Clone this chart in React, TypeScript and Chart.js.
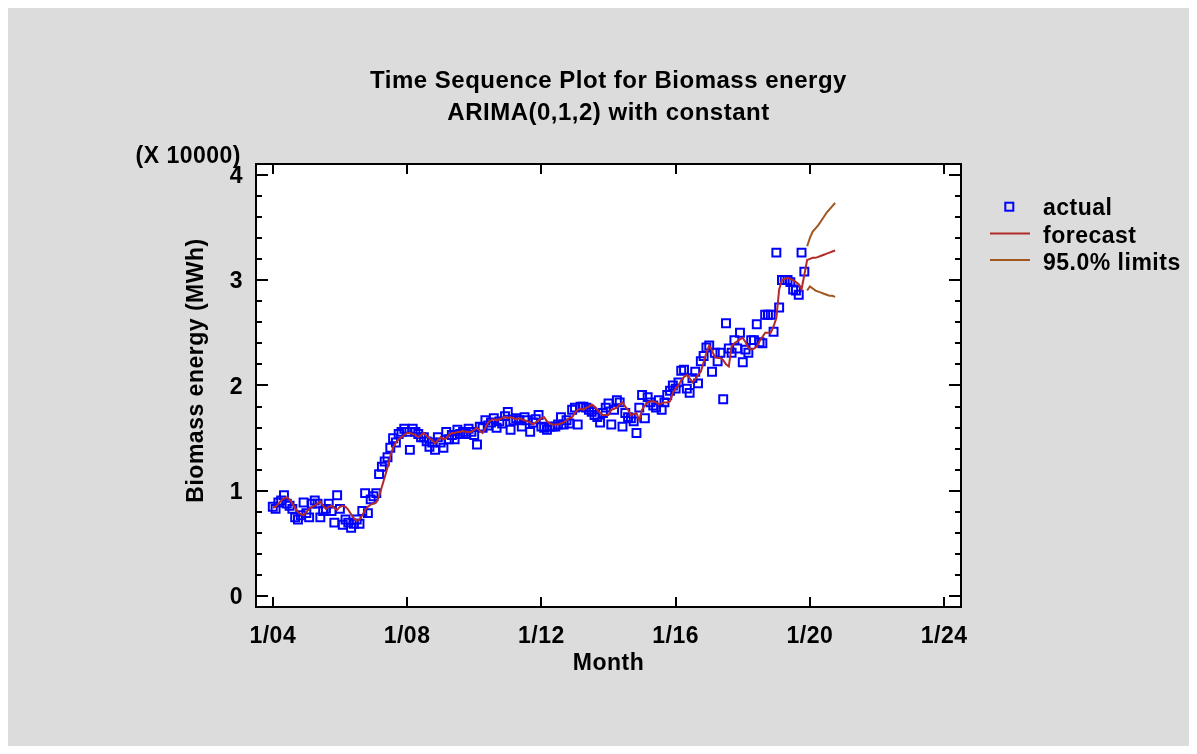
import React, { useEffect, useRef } from "react";
import { Chart, registerables } from "chart.js";

Chart.register(...registerables);

// ---------------- data (units of 10000 MWh) ----------------
// Monthly actual values starting 1/2004 (month index 0)
const actualValues: number[] = [
  // 2004
  0.85, 0.83, 0.89, 0.91, 0.96, 0.88, 0.86, 0.83, 0.75, 0.73, 0.77, 0.89,
  // 2005
  0.79, 0.75, 0.88, 0.91, 0.88, 0.75, 0.81, 0.83, 0.88, 0.81, 0.70, 0.96,
  // 2006
  0.83, 0.68, 0.73, 0.70, 0.65, 0.69, 0.73, 0.69, 0.81, 0.98, 0.79, 0.92,
  // 2007
  0.95, 0.98, 1.16, 1.23, 1.28, 1.32, 1.41, 1.50, 1.46, 1.54, 1.56, 1.59,
  // 2008
  1.56, 1.39, 1.59, 1.56, 1.54, 1.51, 1.51, 1.47, 1.42, 1.46, 1.39, 1.51,
  // 2009
  1.46, 1.41, 1.56, 1.49, 1.53, 1.49, 1.58, 1.54, 1.56, 1.54, 1.59, 1.56,
  // 2010
  1.53, 1.44, 1.61, 1.60, 1.67, 1.62, 1.65, 1.69, 1.60, 1.66, 1.64, 1.71,
  // 2011
  1.75, 1.58, 1.67, 1.69, 1.67, 1.61, 1.70, 1.67, 1.56, 1.65, 1.68, 1.72,
  // 2012
  1.61, 1.60, 1.58, 1.61, 1.61, 1.61, 1.63, 1.70, 1.63, 1.67, 1.64, 1.77,
  // 2013
  1.79, 1.63, 1.80, 1.80, 1.79, 1.77, 1.75, 1.72, 1.70, 1.65, 1.74, 1.79,
  // 2014
  1.83, 1.63, 1.77, 1.86, 1.84, 1.61, 1.74, 1.70, 1.69, 1.66, 1.55, 1.79,
  // 2015
  1.91, 1.69, 1.89, 1.84, 1.81, 1.79, 1.86, 1.77, 1.84, 1.91, 1.95, 2.00,
  // 2016
  1.97, 2.03, 2.14, 2.15, 1.97, 1.93, 2.07, 2.13, 2.02, 2.23, 2.28, 2.36,
  // 2017
  2.38, 2.13, 2.31, 2.23, 2.31, 1.87, 2.59, 2.35, 2.31, 2.43, 2.35, 2.50,
  // 2018
  2.22, 2.34, 2.31, 2.43, 2.43, 2.58, 2.41, 2.40, 2.67, 2.67, 2.67, 2.51,
  // 2019
  3.26, 2.74, 3.00, 3.00, 3.00, 2.98, 2.91, 2.90, 2.86, 3.26, 3.08,
];

// One-step-ahead fitted values (same months as actual)
const fittedValues: number[] = [
  0.84, 0.85, 0.88, 0.91, 0.93, 0.94, 0.92, 0.88, 0.84, 0.80, 0.78, 0.77,
  0.80, 0.83, 0.85, 0.86, 0.88, 0.90, 0.86, 0.83, 0.85, 0.86, 0.84, 0.82,
  0.85, 0.86, 0.85, 0.82, 0.78, 0.74, 0.72, 0.73, 0.77, 0.82, 0.85, 0.87,
  0.88, 0.89, 0.95, 1.04, 1.13, 1.22, 1.33, 1.41, 1.46, 1.49, 1.51, 1.53,
  1.55, 1.55, 1.54, 1.53, 1.51, 1.53, 1.55, 1.52, 1.50, 1.48, 1.45, 1.48,
  1.51, 1.49, 1.50, 1.53, 1.55, 1.55, 1.56, 1.56, 1.57, 1.56, 1.56, 1.56,
  1.58, 1.60, 1.57, 1.55, 1.60, 1.65, 1.67, 1.68, 1.67, 1.68, 1.69, 1.70,
  1.69, 1.70, 1.69, 1.68, 1.69, 1.68, 1.67, 1.66, 1.65, 1.63, 1.65, 1.67,
  1.69, 1.70, 1.66, 1.64, 1.63, 1.63, 1.63, 1.64, 1.65, 1.67, 1.69, 1.70,
  1.74, 1.77, 1.78, 1.77, 1.79, 1.80, 1.82, 1.80, 1.77, 1.74, 1.72, 1.72,
  1.72, 1.77, 1.78, 1.79, 1.82, 1.84, 1.80, 1.77, 1.72, 1.73, 1.74, 1.67,
  1.77, 1.81, 1.84, 1.85, 1.85, 1.84, 1.82, 1.83, 1.84, 1.84, 1.85, 1.93,
  1.97, 2.00, 2.05, 2.08, 2.10, 2.07, 2.03, 2.06, 2.10, 2.13, 2.22, 2.31,
  2.38, 2.33, 2.27, 2.26, 2.26, 2.24, 2.20, 2.18, 2.37, 2.40, 2.42, 2.44,
  2.45, 2.41, 2.36, 2.34, 2.35, 2.37, 2.42, 2.46, 2.50, 2.50, 2.50, 2.56,
  2.64, 2.91, 3.00, 3.01, 3.02, 3.01, 3.00, 2.98, 2.96, 2.91, 3.05,
];

// Forecasts following the last observation
const forecastValues: number[] = [3.19, 3.2, 3.21, 3.21, 3.22, 3.23, 3.24, 3.25, 3.26, 3.27, 3.28];
const upperLimits: number[] = [3.32, 3.4, 3.46, 3.49, 3.52, 3.56, 3.6, 3.64, 3.67, 3.7, 3.73];
const lowerLimits: number[] = [2.9, 2.94, 2.92, 2.9, 2.89, 2.88, 2.87, 2.86, 2.85, 2.85, 2.84];

const xTickMonths: number[] = [0, 48, 96, 144, 192, 240];
const xTickLabels: string[] = ["1/04", "1/08", "1/12", "1/16", "1/20", "1/24"];
const yTickValues: number[] = [0, 1, 2, 3, 4];
const yTickLabels: string[] = ["0", "1", "2", "3", "4"];

const titleLines: string[] = ["Time Sequence Plot for Biomass energy", "ARIMA(0,1,2) with constant"];
const xTitle = "Month";
const yTitle = "Biomass energy (MWh)";
const yMultiplier = "(X 10000)";
const legendLabels: string[] = ["actual", "forecast", "95.0% limits"];

// ---------------- styles ----------------
const BG = "#DCDCDC";
const BLUE = "#0000FF";
const RED = "#B22A2A";
const BROWN = "#A0561E";
const FONT = 'bold 23px "Liberation Sans", Arial, sans-serif';
const TITLE_FONT = 'bold 24px "Liberation Sans", Arial, sans-serif';

const W = 1181;
const H = 738;

function setText(ctx: CanvasRenderingContext2D, font = FONT, spacing = "0.5px") {
  ctx.font = font;
  ctx.fillStyle = "#000";
  try {
    (ctx as any).letterSpacing = spacing;
  } catch (e) {}
}

const decorPlugin = {
  id: "decor",
  beforeDraw(chart: any) {
    const { ctx, chartArea: a } = chart;
    ctx.save();
    ctx.fillStyle = BG;
    ctx.fillRect(0, 0, chart.width, chart.height);
    ctx.fillStyle = "#FFFFFF";
    ctx.fillRect(a.left, a.top, a.right - a.left, a.bottom - a.top);
    ctx.restore();
  },
  afterDraw(chart: any) {
    const { ctx, chartArea: a, scales } = chart;
    const xs = scales.x;
    const ys = scales.y;
    ctx.save();
    // frame
    ctx.strokeStyle = "#000";
    ctx.lineWidth = 2;
    ctx.strokeRect(a.left, a.top, a.right - a.left, a.bottom - a.top);

    // y ticks (major + minor) on left and right
    ctx.lineWidth = 2;
    ctx.beginPath();
    for (let i = 0; i <= 20; i++) {
      const v = i * 0.2;
      const y = Math.round(ys.getPixelForValue(v));
      const len = i % 5 === 0 ? 12 : 6;
      ctx.moveTo(a.left, y);
      ctx.lineTo(a.left + len, y);
      ctx.moveTo(a.right, y);
      ctx.lineTo(a.right - len, y);
    }
    // x ticks bottom and top
    xTickMonths.forEach((m) => {
      const x = Math.round(xs.getPixelForValue(m));
      ctx.moveTo(x, a.bottom);
      ctx.lineTo(x, a.bottom - 10);
      ctx.moveTo(x, a.top);
      ctx.lineTo(x, a.top + 10);
    });
    ctx.stroke();

    // tick labels
    setText(ctx);
    ctx.textBaseline = "alphabetic";
    ctx.textAlign = "right";
    yTickValues.forEach((v, i) => {
      const y = ys.getPixelForValue(v);
      ctx.fillText(yTickLabels[i], a.left - 13, y + 8);
    });
    ctx.textAlign = "center";
    xTickMonths.forEach((m, i) => {
      const x = xs.getPixelForValue(m);
      ctx.fillText(xTickLabels[i], x, a.bottom + 36);
    });

    const cx = (a.left + a.right) / 2;
    ctx.fillText(xTitle, cx, a.bottom + 63);

    // titles
    setText(ctx, TITLE_FONT, "0.5px");
    ctx.textAlign = "center";
    ctx.fillText(titleLines[0], cx, 80);
    ctx.fillText(titleLines[1], cx, 112);

    // multiplier
    setText(ctx);
    ctx.textAlign = "right";
    ctx.fillText(yMultiplier, a.left - 15, a.top - 1);

    // y title
    ctx.save();
    ctx.translate(a.left - 53, (a.top + a.bottom) / 2 - 15);
    ctx.rotate(-Math.PI / 2);
    ctx.textAlign = "center";
    ctx.fillText(yTitle, 0, 0);
    ctx.restore();

    // legend
    ctx.strokeStyle = BLUE;
    ctx.lineWidth = 2;
    ctx.strokeRect(1001.3 - 4, 198.7 - 4, 8, 8);
    ctx.strokeStyle = RED;
    ctx.beginPath();
    ctx.moveTo(982, 225.5);
    ctx.lineTo(1022, 225.5);
    ctx.stroke();
    ctx.strokeStyle = BROWN;
    ctx.beginPath();
    ctx.moveTo(982, 252);
    ctx.lineTo(1022, 252);
    ctx.stroke();
    setText(ctx);
    ctx.textAlign = "left";
    ctx.fillText(legendLabels[0], 1035, 207);
    ctx.fillText(legendLabels[1], 1035, 235);
    ctx.fillText(legendLabels[2], 1035, 262);
    ctx.restore();
  },
};

export default function App() {
  const canvasRef = useRef<HTMLCanvasElement | null>(null);

  useEffect(() => {
    const canvas = canvasRef.current;
    if (!canvas) return;

    const actualPts = actualValues.map((v, i) => ({ x: i, y: v }));
    const fcStart = actualValues.length;
    const linePts = fittedValues
      .map((v, i) => ({ x: i, y: v }))
      .concat(forecastValues.map((v, i) => ({ x: fcStart + i, y: v })));
    const upperPts = upperLimits.map((v, i) => ({ x: fcStart + i, y: v }));
    const lowerPts = lowerLimits.map((v, i) => ({ x: fcStart + i, y: v }));

    const chart = new Chart(canvas, {
      type: "line",
      data: {
        datasets: [
          {
            label: "forecast",
            data: linePts,
            borderColor: RED,
            borderWidth: 2,
            pointRadius: 0,
            fill: false,
            tension: 0,
            order: 0,
          },
          {
            label: "actual",
            data: actualPts,
            showLine: false,
            pointStyle: "rect",
            pointRadius: 5.6,
            pointBorderWidth: 2,
            pointBorderColor: BLUE,
            pointBackgroundColor: "rgba(0,0,0,0)",
            borderColor: BLUE,
            backgroundColor: "rgba(0,0,0,0)",
            order: 1,
          },
          {
            label: "95.0% limits upper",
            data: upperPts,
            borderColor: BROWN,
            borderWidth: 2,
            pointRadius: 0,
            fill: false,
            tension: 0,
            order: 2,
          },
          {
            label: "95.0% limits lower",
            data: lowerPts,
            borderColor: BROWN,
            borderWidth: 2,
            pointRadius: 0,
            fill: false,
            tension: 0,
            order: 2,
          },
        ],
      },
      options: {
        animation: false,
        responsive: false,
        devicePixelRatio: 1,
        events: [],
        layout: { padding: { left: 248, top: 156, right: W - 953, bottom: H - 599 } },
        plugins: {
          legend: { display: false },
          tooltip: { enabled: false },
          title: { display: false },
        },
        scales: {
          x: { type: "linear", min: -6, max: 246, display: false },
          y: { type: "linear", min: -0.1, max: 4.1, display: false },
        },
      },
      plugins: [decorPlugin],
    });

    return () => chart.destroy();
  }, []);

  return (
    <div style={{ width: W, height: H }}>
      <canvas ref={canvasRef} width={W} height={H} style={{ display: "block" }} />
    </div>
  );
}
